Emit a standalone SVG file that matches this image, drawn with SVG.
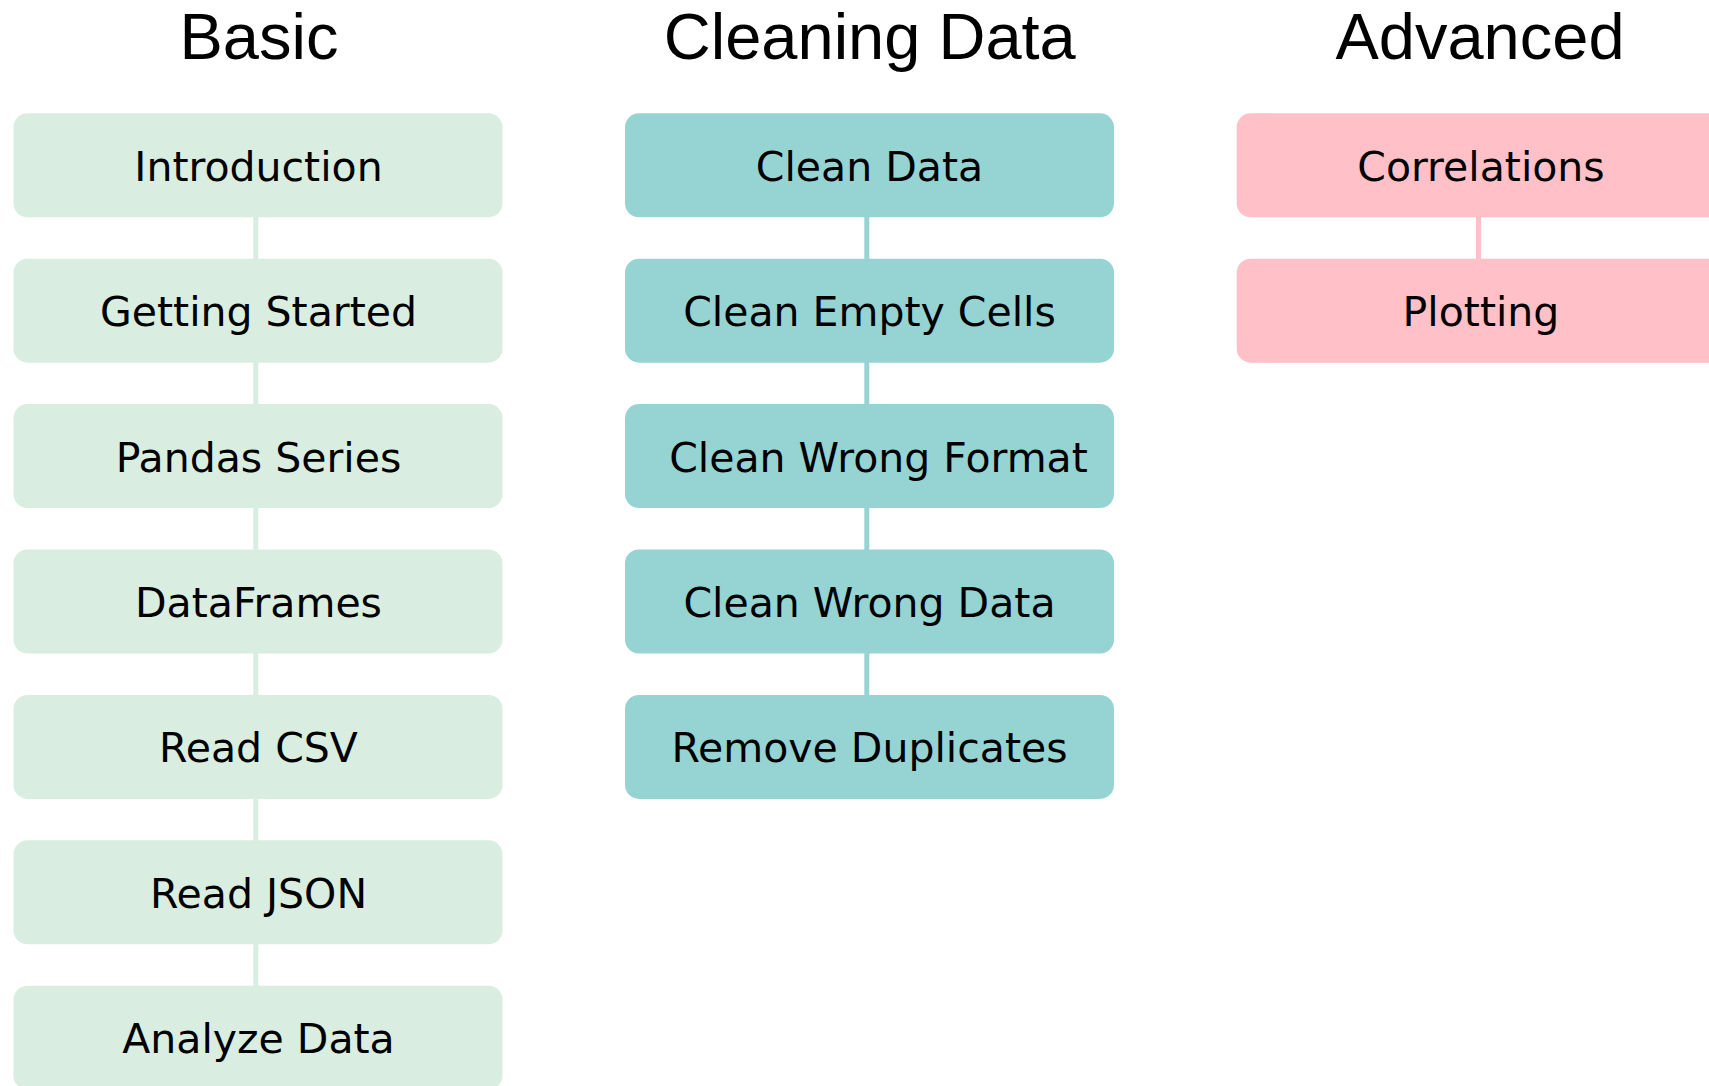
<svg xmlns="http://www.w3.org/2000/svg" width="1709" height="1086" viewBox="0 0 1709 1086">
  <style>
    .title { font-family: "Liberation Sans", Arial, sans-serif; font-size: 65px; fill: #000; text-anchor: middle; }
    .label { font-family: "DejaVu Sans", Verdana, sans-serif; font-size: 41px; fill: #000; text-anchor: middle; }
    .basic rect { fill: #D9EEE1; }
    .clean rect { fill: #96D4D4; }
    .adv rect { fill: #FFC0C7; }
    .link-basic { stroke: #D9EEE1; stroke-width: 5; }
    .link-clean { stroke: #96D4D4; stroke-width: 5; }
    .link-adv { stroke: #FFC0C7; stroke-width: 5; }
  </style>
  <rect width="1709" height="1086" fill="#fff"/>

  <!-- column headings -->
  <g id="headings">
    <text class="title" x="259" y="59">Basic</text>
    <text class="title" x="869.8" y="59">Cleaning Data</text>
    <text class="title" x="1480" y="59">Advanced</text>
  </g>

  <!-- connectors between consecutive steps -->
  <g id="connectors">
    <line class="link-basic" x1="255.8" y1="217" x2="255.8" y2="259"/>
    <line class="link-basic" x1="255.8" y1="362" x2="255.8" y2="405"/>
    <line class="link-basic" x1="255.8" y1="508" x2="255.8" y2="550"/>
    <line class="link-basic" x1="255.8" y1="653" x2="255.8" y2="696"/>
    <line class="link-basic" x1="255.8" y1="799" x2="255.8" y2="841"/>
    <line class="link-basic" x1="255.8" y1="944" x2="255.8" y2="987"/>
    <line class="link-clean" x1="866.8" y1="217" x2="866.8" y2="259"/>
    <line class="link-clean" x1="866.8" y1="362" x2="866.8" y2="405"/>
    <line class="link-clean" x1="866.8" y1="508" x2="866.8" y2="550"/>
    <line class="link-clean" x1="866.8" y1="653" x2="866.8" y2="696"/>
    <line class="link-adv" x1="1478.5" y1="217" x2="1478.5" y2="259"/>
  </g>

  <!-- Basic column -->
  <g id="introduction" class="basic"><rect x="13.5" y="113.3" width="489" height="104" rx="14"/><text class="label" x="258.5" y="180.7">Introduction</text></g>
  <g id="getting-started" class="basic"><rect x="13.5" y="258.7" width="489" height="104" rx="14"/><text class="label" x="258.5" y="326.1">Getting Started</text></g>
  <g id="pandas-series" class="basic"><rect x="13.5" y="404.1" width="489" height="104" rx="14"/><text class="label" x="258.5" y="471.5">Pandas Series</text></g>
  <g id="dataframes" class="basic"><rect x="13.5" y="549.5" width="489" height="104" rx="14"/><text class="label" x="258.5" y="616.9">DataFrames</text></g>
  <g id="read-csv" class="basic"><rect x="13.5" y="694.9" width="489" height="104" rx="14"/><text class="label" x="258.5" y="762.3">Read CSV</text></g>
  <g id="read-json" class="basic"><rect x="13.5" y="840.3" width="489" height="104" rx="14"/><text class="label" x="258.5" y="907.7">Read JSON</text></g>
  <g id="analyze-data" class="basic"><rect x="13.5" y="985.7" width="489" height="104" rx="14"/><text class="label" x="258.5" y="1053.1">Analyze Data</text></g>

  <!-- Cleaning Data column -->
  <g id="clean-data" class="clean"><rect x="625" y="113.3" width="489" height="104" rx="14"/><text class="label" x="869.5" y="180.7">Clean Data</text></g>
  <g id="clean-empty-cells" class="clean"><rect x="625" y="258.7" width="489" height="104" rx="14"/><text class="label" x="869.5" y="326.1">Clean Empty Cells</text></g>
  <g id="clean-wrong-format" class="clean"><rect x="625" y="404.1" width="489" height="104" rx="14"/><text class="label" x="878.5" y="471.5">Clean Wrong Format</text></g>
  <g id="clean-wrong-data" class="clean"><rect x="625" y="549.5" width="489" height="104" rx="14"/><text class="label" x="869.5" y="616.9">Clean Wrong Data</text></g>
  <g id="remove-duplicates" class="clean"><rect x="625" y="694.9" width="489" height="104" rx="14"/><text class="label" x="869.5" y="762.3">Remove Duplicates</text></g>

  <!-- Advanced column -->
  <g id="correlations" class="adv"><rect x="1236.7" y="113.3" width="489" height="104" rx="14"/><text class="label" x="1481" y="180.7">Correlations</text></g>
  <g id="plotting" class="adv"><rect x="1236.7" y="258.7" width="489" height="104" rx="14"/><text class="label" x="1481" y="326.1">Plotting</text></g>
</svg>
